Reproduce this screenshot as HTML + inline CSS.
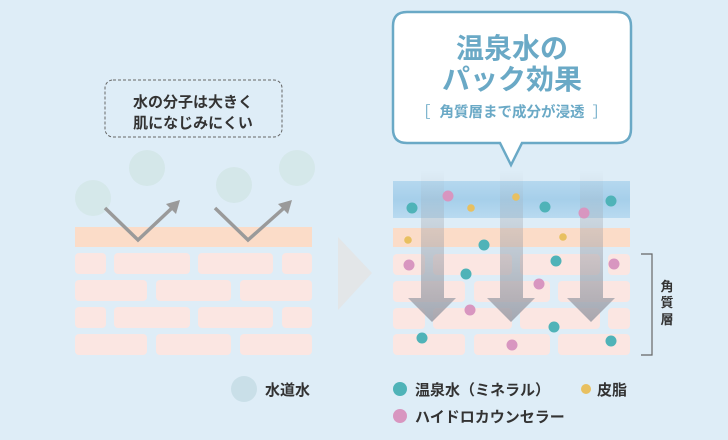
<!DOCTYPE html>
<html><head><meta charset="utf-8"><style>
html,body{margin:0;padding:0;background:#deedf7;}
svg{display:block;font-family:"Liberation Sans","Noto Sans CJK JP",sans-serif;}
</style></head><body>
<svg width="728" height="440" viewBox="0 0 728 440" xmlns="http://www.w3.org/2000/svg">
<defs>
<linearGradient id="ar" x1="0" y1="0" x2="0" y2="1">
<stop offset="0" stop-color="#a0a4ac" stop-opacity="0"/>
<stop offset="0.3" stop-color="#a0a4ac" stop-opacity="0.3"/>
<stop offset="1" stop-color="#9a9ca6" stop-opacity="0.85"/>
</linearGradient>
<linearGradient id="bl" x1="0" y1="0" x2="0" y2="1">
<stop offset="0" stop-color="#b5d8ef"/><stop offset="0.5" stop-color="#a6cfea"/><stop offset="1" stop-color="#b8daf0"/>
</linearGradient>
</defs>
<rect width="728" height="440" fill="#deedf7"/>

<rect x="105" y="80" width="177" height="57" rx="8" fill="none" stroke="#666" stroke-width="1" stroke-dasharray="3,2"/>
<text x="193" y="107" font-size="15" font-weight="bold" fill="#333" text-anchor="middle">水の分子は大きく</text>
<text x="193" y="128" font-size="15" font-weight="bold" fill="#333" text-anchor="middle">肌になじみにくい</text>

<rect x="75" y="227" width="237" height="20" fill="#fbdcc8"/>
<g fill="#fbe6e2">
<rect x="75" y="253" width="31" height="21" rx="4"/><rect x="114" y="253" width="76" height="21" rx="4"/><rect x="198" y="253" width="75" height="21" rx="4"/><rect x="282" y="253" width="30" height="21" rx="4"/>
<rect x="75" y="280" width="72" height="21" rx="4"/><rect x="156" y="280" width="75" height="21" rx="4"/><rect x="240" y="280" width="72" height="21" rx="4"/>
<rect x="75" y="307" width="31" height="21" rx="4"/><rect x="114" y="307" width="76" height="21" rx="4"/><rect x="198" y="307" width="75" height="21" rx="4"/><rect x="282" y="307" width="30" height="21" rx="4"/>
<rect x="75" y="334" width="72" height="21" rx="4"/><rect x="156" y="334" width="75" height="21" rx="4"/><rect x="240" y="334" width="72" height="21" rx="4"/>
</g>
<g fill="#d3e6e7" opacity="0.85">
<circle cx="93" cy="198" r="18"/><circle cx="147" cy="168" r="18"/><circle cx="234" cy="185" r="18"/><circle cx="297" cy="168" r="18"/>
</g>
<g stroke="#9a9a9a" stroke-width="3.5" fill="none">
<polyline points="105,208 138,240 172,208"/>
<polyline points="215,208 248,240 284,208"/>
</g>
<g fill="#9a9a9a">
<polygon points="180,200 166,204 176,214"/>
<polygon points="292,200 278,204 288,214"/>
</g>

<polygon points="338,237 372,273 338,310" fill="#e3e6e8"/>

<path d="M407,12 H617 Q631,12 631,26 V129 Q631,143 617,143 H522 L511,165 L500,143 H407 Q393,143 393,129 V26 Q393,12 407,12 Z" fill="#fff" stroke="#6aa9c6" stroke-width="2.5"/>
<text x="512" y="58" font-size="28" font-weight="bold" fill="#6aa9c6" text-anchor="middle">温泉水の</text>
<text x="512" y="89" font-size="28" font-weight="bold" fill="#6aa9c6" text-anchor="middle">パック効果</text>
<text x="512" y="117" font-size="14.5" font-weight="bold" fill="#6aa9c6" text-anchor="middle">角質層まで成分が浸透</text>
<text x="423" y="117" font-size="15" fill="#6aa9c6" text-anchor="middle">［</text>
<text x="600" y="117" font-size="15" fill="#6aa9c6" text-anchor="middle">］</text>

<rect x="393" y="181" width="237" height="37" fill="url(#bl)"/>
<rect x="393" y="228" width="237" height="19" fill="#fbdcc8"/>
<g fill="#fbe6e2">
<rect x="393" y="254" width="32" height="21" rx="4"/><rect x="433" y="254" width="79" height="21" rx="4"/><rect x="520" y="254" width="80" height="21" rx="4"/><rect x="608" y="254" width="22" height="21" rx="4"/>
<rect x="393" y="281" width="72" height="21" rx="4"/><rect x="474" y="281" width="76" height="21" rx="4"/><rect x="558" y="281" width="72" height="21" rx="4"/>
<rect x="393" y="308" width="32" height="21" rx="4"/><rect x="433" y="308" width="79" height="21" rx="4"/><rect x="520" y="308" width="80" height="21" rx="4"/><rect x="608" y="308" width="22" height="21" rx="4"/>
<rect x="393" y="334" width="72" height="21" rx="4"/><rect x="474" y="334" width="76" height="21" rx="4"/><rect x="558" y="334" width="72" height="21" rx="4"/>
</g>
<g fill="url(#ar)">
<path d="M421,170 H444 V298 H456 L432,322 L408,298 H421 Z"/>
<path d="M500,170 H523 V298 H535 L511,322 L487,298 H500 Z"/>
<path d="M580,170 H603 V298 H615 L591,322 L567,298 H580 Z"/>
</g>
<g fill="#4fb3b8">
<circle cx="412" cy="208" r="5.5"/><circle cx="545" cy="207" r="5.5"/><circle cx="611" cy="201" r="5.5"/><circle cx="484" cy="245" r="5.5"/><circle cx="556" cy="261" r="5.5"/><circle cx="466" cy="274" r="5.5"/><circle cx="554" cy="327" r="5.5"/><circle cx="422" cy="338" r="5.5"/><circle cx="611" cy="341" r="5.5"/>
</g>
<g fill="#d896c0">
<circle cx="448" cy="196" r="5.5"/><circle cx="584" cy="213" r="5.5"/><circle cx="409" cy="265" r="5.5"/><circle cx="614" cy="264" r="5.5"/><circle cx="539" cy="284" r="5.5"/><circle cx="470" cy="310" r="5.5"/><circle cx="512" cy="345" r="5.5"/>
</g>
<g fill="#e8c060">
<circle cx="471" cy="208" r="3.8"/><circle cx="516" cy="197" r="3.8"/><circle cx="408" cy="240" r="3.8"/><circle cx="563" cy="237" r="3.8"/>
</g>

<polyline points="641,254 652,254 652,355 641,355" fill="none" stroke="#666" stroke-width="1.2"/>
<g font-size="13" font-weight="bold" fill="#333" text-anchor="middle">
<text x="667" y="291">角</text><text x="667" y="307">質</text><text x="667" y="324">層</text>
</g>

<circle cx="244" cy="389" r="13" fill="#c9dfe8"/>
<text x="265" y="395" font-size="15" font-weight="bold" fill="#333">水道水</text>
<circle cx="400" cy="389" r="7" fill="#4fb3b8"/>
<text x="415" y="395" font-size="15" font-weight="bold" fill="#333">温泉水（ミネラル）</text>
<circle cx="586" cy="389" r="5" fill="#e8c060"/>
<text x="597" y="395" font-size="15" font-weight="bold" fill="#333">皮脂</text>
<circle cx="400" cy="416" r="7" fill="#d896c0"/>
<text x="415" y="422" font-size="15" font-weight="bold" fill="#333">ハイドロカウンセラー</text>
</svg>
</body></html>
